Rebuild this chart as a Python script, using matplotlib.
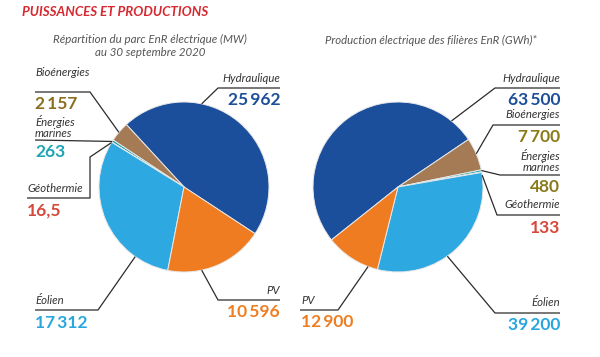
import numpy as np
import matplotlib.pyplot as plt

plt.rcParams['font.family'] = ['Lato', 'DejaVu Sans']

# Data
categories = ['Hydraulique', 'Bioénergies', 'Énergies\nmarines', 'Géothermie', 'Éolien', 'PV']
capacity_mw = [25962, 2157, 263, 16.5, 17312, 10596]
production_gwh = [63500, 7700, 480, 133, 39200, 12900]

wedge_colors = ['#1b4f9c', '#a47b55', '#1aa3a8', '#d9483b', '#2ea8e0', '#f07c21']
value_colors_left = ['#1d4e9a', '#8a6f1e', '#1ea5b5', '#d5483b', '#2aa6df', '#ef7d22']
value_colors_right = ['#1d4e9a', '#8a7a1a', '#8a7a1a', '#d5483b', '#2aa6df', '#ef7d22']

W, H = 600, 357


def fmt(v):
    # french style: thin space thousands, comma decimal
    if float(v).is_integer():
        s = '{:,}'.format(int(v)).replace(',', '\u2009')
    else:
        s = '{:,.1f}'.format(v).replace(',', '\u2009').replace('.', ',')
    return s


def P(x, y):
    return x, H - y


fig = plt.figure(figsize=(6, 3.57), dpi=100)
ax = fig.add_axes([0, 0, 1, 1])

R = 85
left_c = (184, 187)
right_c = (398, 187)

wp = dict(edgecolor='#e8e8e8', linewidth=0.7)
ax.pie(capacity_mw, colors=wedge_colors, startangle=-33.3, counterclock=True,
       center=P(*left_c), radius=R, wedgeprops=wp)
ax.pie(production_gwh, colors=wedge_colors, startangle=218.5, counterclock=False,
       center=P(*right_c), radius=R, wedgeprops=wp)

ax.set_xlim(0, W)
ax.set_ylim(0, H)
ax.set_aspect('auto')
ax.axis('off')

# callouts: anchor angle on pie, elbow points (top-down px), label pos, value pos, align
left_layout = [
    (78, [(218, 88), (280, 88)], (280, 78), (280, 100), 'right'),
    (140, [(90, 92), (35, 92)], (35, 72), (35, 104), 'left'),
    (147.6, [(35, 140)], (35, 127), (35, 152), 'left'),
    (148.5, [(90, 157), (90, 198), (27, 198)], (27, 188), (27, 211), 'left'),
    (235, [(98, 310), (35, 310)], (35, 300), (35, 323), 'left'),
    (282, [(218, 300), (280, 300)], (280, 290), (280, 312), 'right'),
]
right_layout = [
    (51, [(495, 88), (560, 88)], (560, 78), (560, 100), 'right'),
    (23, [(493, 125), (560, 125)], (560, 115), (560, 137), 'right'),
    (11.2, [(500, 175), (560, 175)], (560, 161), (560, 187), 'right'),
    (8, [(497, 215), (560, 215)], (560, 205), (560, 228), 'right'),
    (-54.5, [(495, 313), (560, 313)], (560, 303), (560, 325), 'right'),
    (249.4, [(338, 310), (300, 310)], (301, 301), (301, 322), 'left'),
]


def callouts(center, values, layout, vcolors):
    cx, cy = center
    for name, val, (ang, path, lxy, vxy, ha), vc in zip(categories, values, layout, vcolors):
        a = np.deg2rad(ang)
        ax_, ay_ = cx + R * np.cos(a), cy - R * np.sin(a)
        pts = [(ax_, ay_)] + path
        xs = [p[0] for p in pts]
        ys = [H - p[1] for p in pts]
        ax.plot(xs, ys, color='#2b2b2b', lw=0.9, solid_capstyle='butt')
        ax.text(*P(*lxy), name, ha=ha, va='center', fontsize=8.2, style='italic',
                color='#333333', linespacing=0.95)
        ax.text(*P(*vxy), fmt(val), ha=ha, va='center', fontsize=12.5, weight='bold',
                color=vc)


callouts(left_c, capacity_mw, left_layout, value_colors_left)
callouts(right_c, production_gwh, right_layout, value_colors_right)

# Titles
ax.text(*P(22, 12), 'PUISSANCES ET PRODUCTIONS', ha='left', va='center', fontsize=9.6,
        weight='bold', style='italic', color='#d7282f')
ax.text(*P(150, 46), 'Répartition du parc EnR électrique (MW)\nau 30 septembre 2020',
        ha='center', va='center', fontsize=8.3, style='italic', color='#555555', linespacing=1.2)
ax.text(*P(431, 40), 'Production électrique des filières EnR (GWh)*',
        ha='center', va='center', fontsize=8.2, style='italic', color='#555555')

fig.savefig('out.png', dpi=100)
